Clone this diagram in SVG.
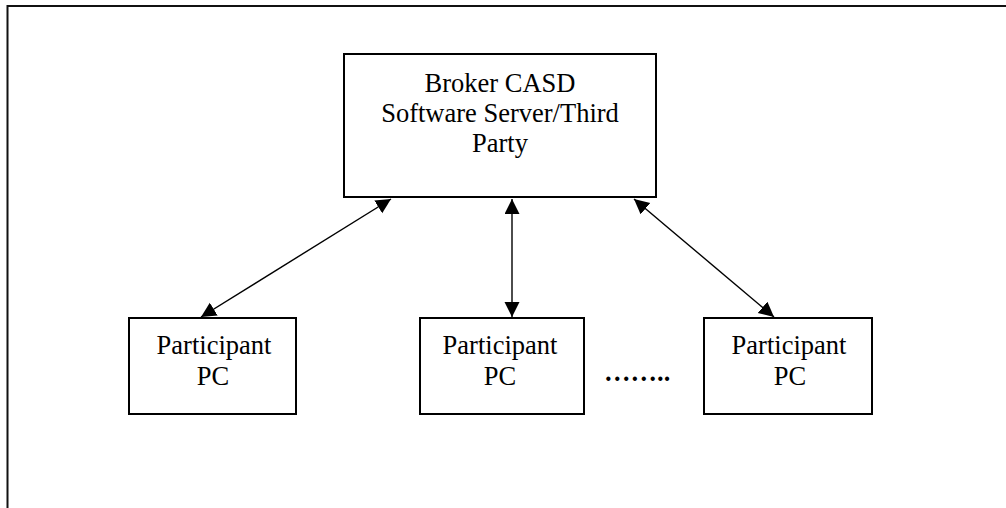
<svg xmlns="http://www.w3.org/2000/svg" width="1006" height="508" viewBox="0 0 1006 508">
<style>
.box{fill:#fff;stroke:#000;stroke-width:2}
.lbl{font-family:"Liberation Serif","Times New Roman",serif;font-size:26.5px;fill:#000;text-anchor:middle}
.con{stroke:#000;stroke-width:1.4;fill:none;marker-start:url(#ah);marker-end:url(#ah)}
</style>
<defs>
<marker id="ah" markerUnits="userSpaceOnUse" markerWidth="16" markerHeight="16" refX="15" refY="7.5" orient="auto-start-reverse" viewBox="0 0 16 16">
<path d="M0,0 L15,7.5 L0,15 z" fill="#000"/>
</marker>
</defs>
<rect width="1006" height="508" fill="#fff"/>
<path id="frame" d="M7.5,508 V6 H1006" fill="none" stroke="#111" stroke-width="2"/>
<g id="connectors">
<line class="con" x1="201" y1="317" x2="391" y2="199"/>
<line class="con" x1="512" y1="317" x2="512" y2="199"/>
<line class="con" x1="774" y1="317" x2="634" y2="199"/>
</g>
<g id="broker">
<rect class="box" x="344" y="54" width="312" height="143"/>
<text class="lbl" x="500" y="92">Broker CASD</text>
<text class="lbl" x="500" y="121.5">Software Server/Third</text>
<text class="lbl" x="500" y="151.5">Party</text>
</g>
<g id="pc1">
<rect class="box" x="129" y="318" width="167" height="96"/>
<text class="lbl" x="214" y="354">Participant</text>
<text class="lbl" x="213" y="385">PC</text>
</g>
<g id="pc2">
<rect class="box" x="420" y="318" width="164" height="96"/>
<text class="lbl" x="500" y="354">Participant</text>
<text class="lbl" x="500" y="385">PC</text>
</g>
<g id="pc3">
<rect class="box" x="704" y="318" width="168" height="96"/>
<text class="lbl" x="789" y="354">Participant</text>
<text class="lbl" x="790" y="385">PC</text>
</g>
<text id="dots" x="604" y="380.5" style="font-family:'Liberation Serif','Times New Roman',serif;font-size:26.5px;font-weight:bold;fill:#000">……..</text>
</svg>
